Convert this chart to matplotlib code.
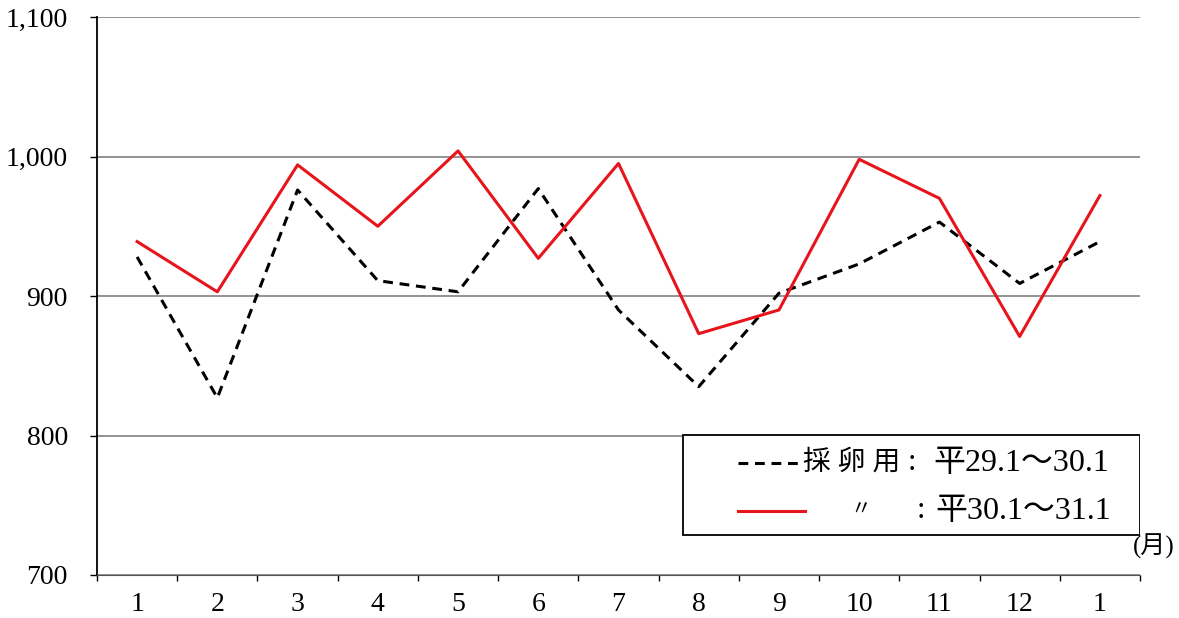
import matplotlib.pyplot as plt
from matplotlib.patches import Rectangle
import numpy as np

plt.rcParams['font.family'] = ['Liberation Serif', 'Noto Sans CJK JP', 'DejaVu Sans']

# データ
months = ['1', '2', '3', '4', '5', '6', '7', '8', '9', '10', '11', '12', '1']
prev_year = [928, 827, 976, 911, 903, 977, 890, 835, 902, 923, 953, 909, 939]   # 平29.1～30.1
this_year = [939, 903, 994, 950, 1004, 927, 995, 873, 890, 998, 970, 871, 972]  # 平30.1～31.1

x = np.arange(len(months))

fig = plt.figure(figsize=(11.79, 6.18), dpi=100)
ax = fig.add_axes([97 / 1179, 1 - 575 / 618, (1140 - 97) / 1179, (575 - 17) / 618])

ax.plot(x, prev_year, color='black', linestyle=(0, (3.2, 2.2)), linewidth=2.2)
ax.plot(x, this_year, color='#e8141c', linewidth=2.2)

ax.set_xlim(-0.5, len(months) - 0.5)
ax.set_ylim(700, 1100)

# 目盛り
ax.set_yticks([700, 800, 900, 1000, 1100])
ax.set_yticklabels(['700', '800', '900', '1,000', '1,100'], fontsize=20)
ax.set_xticks(x)
ax.set_xticklabels(months, fontsize=20)
ax.set_xticks(np.arange(-0.5, len(months)), minor=True)
ax.tick_params(axis='x', which='major', length=0, pad=12)
ax.tick_params(axis='x', which='minor', length=4, width=1, direction='out')
ax.tick_params(axis='y', length=5, width=1, direction='out', pad=16)

ax.grid(axis='y', color='#808080', linewidth=1.2)
ax.spines['right'].set_visible(False)
ax.spines['top'].set_visible(False)
ax.spines['left'].set_linewidth(1.3)
ax.spines['bottom'].set_color('#555555')


def ax_x(px):
    return (px - 97) / 1043


def ax_y(py):
    return (575 - py) / 558


# 凡例
box = Rectangle((ax_x(683), ax_y(535)), ax_x(1140) - ax_x(683), ax_y(435) - ax_y(535),
                transform=ax.transAxes, facecolor='white', edgecolor='black',
                linewidth=1.3, zorder=5)
ax.add_patch(box)

ax.plot([ax_x(738), ax_x(800)], [ax_y(463)] * 2, transform=ax.transAxes,
        color='black', linestyle=(0, (3.2, 2.2)), linewidth=2.2, zorder=6)
ax.plot([ax_x(738), ax_x(805)], [ax_y(511)] * 2, transform=ax.transAxes,
        color='#e8141c', linewidth=2.2, zorder=6)

legend_texts = [
    (803, 463, '採 卵 用', 20),
    (908, 463, ':', 22),
    (933, 463, '平29.1～30.1', 23),
    (850, 511, '〃', 15),
    (917, 511, ':', 22),
    (935, 511, '平30.1～31.1', 23),
]
for px, py, s, fs in legend_texts:
    ax.text(ax_x(px), ax_y(py), s, transform=ax.transAxes,
            fontsize=fs, va='center', ha='left', zorder=7)

ax.text(ax_x(1133), ax_y(546), '(月)', transform=ax.transAxes,
        fontsize=18, va='center', ha='left')

fig.savefig('out.png', dpi=100)
